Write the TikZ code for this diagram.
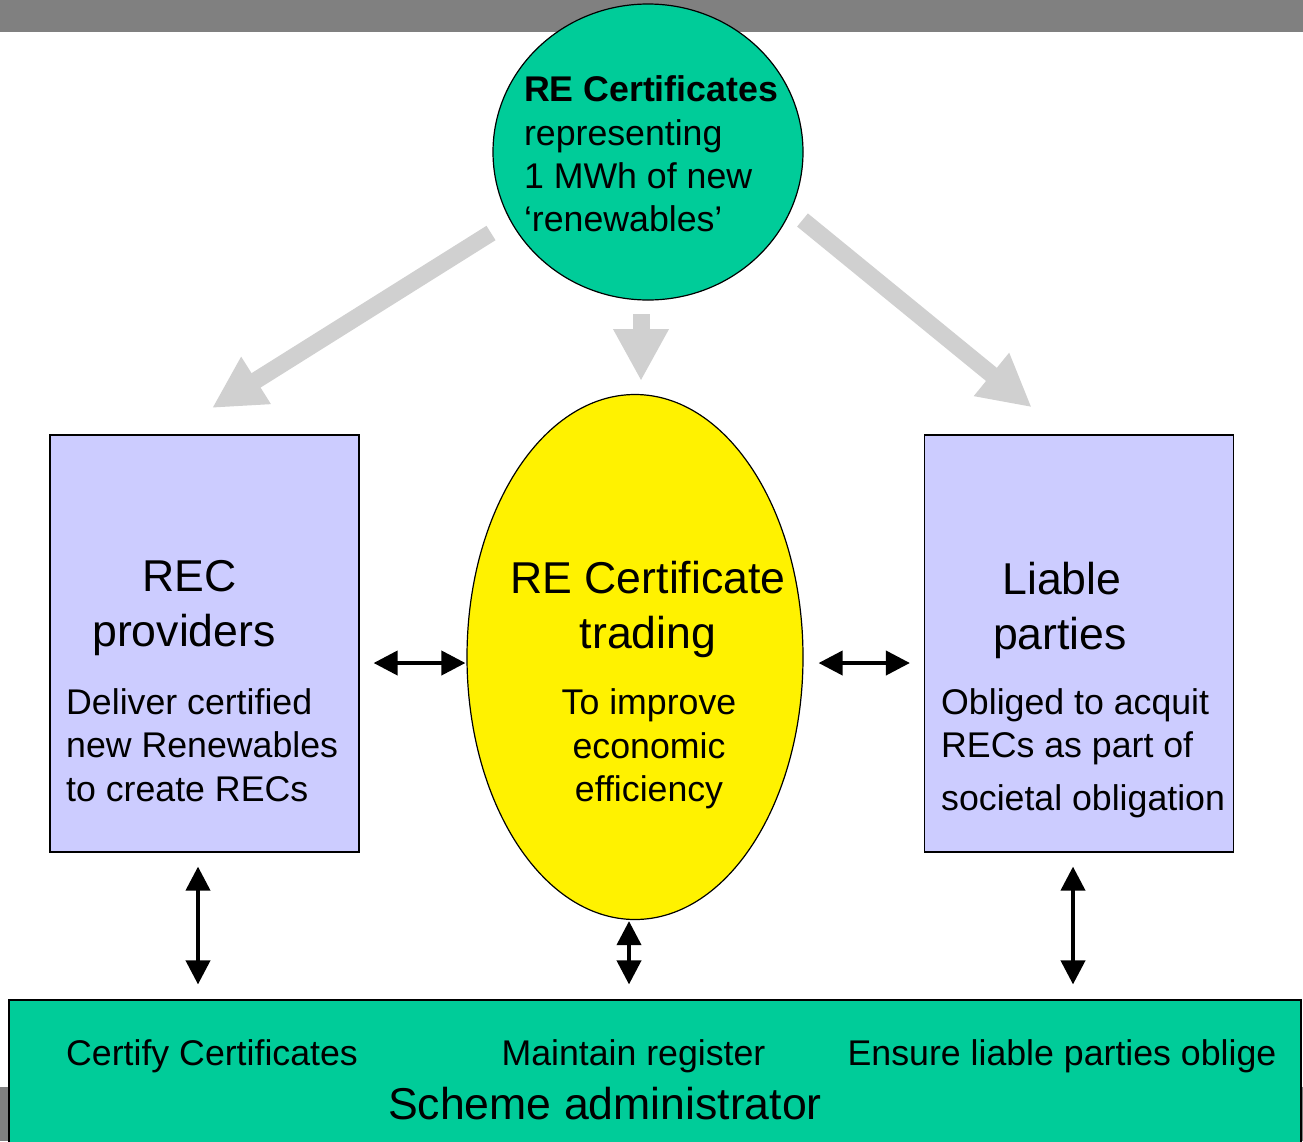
\documentclass[tikz,border=0pt]{standalone}
\usepackage{fontspec}
\setmainfont{Liberation Sans}
\usetikzlibrary{calc}
\usetikzlibrary{arrows.meta,shapes.geometric}

\definecolor{recgreen}{HTML}{00CC99}
\definecolor{reclilac}{HTML}{CCCCFF}
\definecolor{bargray}{HTML}{808080}
\definecolor{flowgray}{HTML}{D0D0D0}
\newcommand{\bodysize}{\fontsize{35.7}{43.3}\selectfont}
\newcommand{\headsize}{\fontsize{44.6}{55}\selectfont}

\begin{document}
\begin{tikzpicture}[x=1pt,y=-1pt,>={Triangle[length=24pt,width=24pt]}]
	\tikzset{party/.style={draw,line width=1.2pt,fill=reclilac,minimum width=309pt,minimum height=417pt,inner sep=0pt}}
	\tikzset{twoway/.style={<->,line width=4pt}}
	\tikzset{fat/.style={flowgray,line width=17pt,-{Triangle[length=52pt,width=52pt]}}}
	\tikzset{txt/.style={inner sep=0pt,font=\bodysize}}
	\useasboundingbox (0,0) rectangle (1303,1141);
	\fill[bargray] (0,0) rectangle (1303,32);
	\fill[bargray] (0,1087) rectangle (1303,1141);
	
	\node (cert) at (648,152) [ellipse,draw,line width=1.2pt,fill=recgreen,minimum width=310pt,minimum height=296pt] {};
	\node (trade) at (635,657) [ellipse,draw,line width=1.2pt,fill=yellow,minimum width=336pt,minimum height=525pt] {};
	\node (prov) at (204.5,643.5) [party] {};
	\node (liable) at (1079,643.5) [party] {};
	\node (admin) at (655,1075) [draw,line width=1.2pt,fill=recgreen,minimum width=1292pt,minimum height=150pt] {};
	
	\node (certtxt) at (651,154) [txt,align=left] {\textbf{RE Certificates}\\representing\\1 MWh of new\\‘renewables’};
	\node (provhead) at (184,603) [txt,font=\headsize,align=center,text depth=0pt] {\hspace*{11pt}REC\\providers};
	\node (provtxt) at (66,745) [txt,anchor=west,align=left] {Deliver certified\\new Renewables\\to create RECs};
	\node (tradehead) at (648,609) [txt,font=\headsize,align=center] {RE Certificate\\trading};
	\node (tradetxt) at (649,749) [txt,align=center] {To improve\\economic\\efficiency};
	\node (liablehead) at (1060,610) [txt,font=\headsize,align=center] {\hspace*{4pt}Liable\\parties};
	\node (liabletxt) at (941,753) [txt,anchor=west,align=left] {Obliged to acquit\\RECs as part of\\[9pt]societal obligation};
	\node (certify) at (66,1065) [txt,anchor=base west] {Certify Certificates};
	\node (register) at (633.5,1065) [txt,anchor=base] {Maintain register};
	\node (ensure) at (1062,1065) [txt,anchor=base] {Ensure liable parties oblige};
	\node (scheme) at (605,1119) [txt,font=\headsize,anchor=base] {Scheme administrator};
	
	\coordinate (A) at (491,233);
	\coordinate (B) at (212,408);
	\coordinate (C) at (641,314);
	\coordinate (D) at (641,381);
	\coordinate (E) at (802.5,220);
	\coordinate (F) at (1031.7,407.3);
	\draw[fat] (A) -- (B);
	\draw[fat] (C) -- (D);
	\draw[fat] (E) -- (F);
	
	\draw[twoway] ($(prov.east)+(14,19.5)$) -- ($(trade.west)+(-1,6)$);
	\draw[twoway] ($(trade.east)+(15,6)$) -- ($(liable.west)+(-14,19.5)$);
	\draw[twoway] ($(prov.south)+(-6.5,14)$) -- ($(prov.south |- admin.north)+(-6.5,-15)$);
	\draw[twoway] ($(trade.south)+(-6,1)$) -- ($(trade.south |- admin.north)+(-6,-15)$);
	\draw[twoway] ($(liable.south)+(-6,14)$) -- ($(liable.south |- admin.north)+(-6,-15)$);
\end{tikzpicture}
\end{document}
